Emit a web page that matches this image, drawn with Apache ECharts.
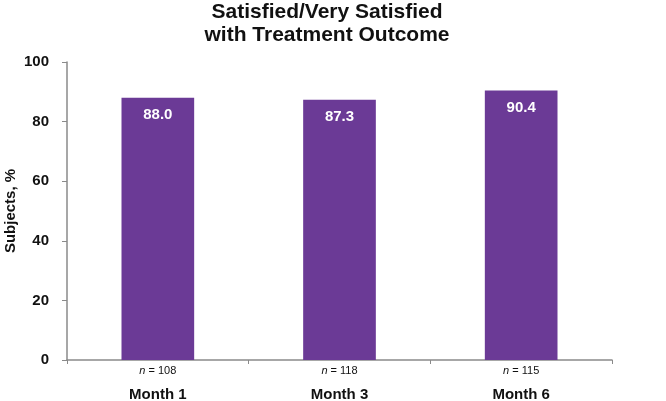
<!DOCTYPE html>
<html>
<head>
<meta charset="utf-8">
<script src="https://cdn.jsdelivr.net/npm/echarts@6/dist/echarts.min.js"></script>
<style>
  html, body { margin: 0; padding: 0; background: #fff; }
  #chart { width: 666px; height: 401px; }
</style>
</head>
<body>
<div id="chart"></div>
<script>
// data
var months = ['Month 1', 'Month 3', 'Month 6'];
var satisfied = [88.0, 87.3, 90.4];
var sampleSizes = [108, 118, 115];

var chart = echarts.init(document.getElementById('chart'));
var font = '"Liberation Sans", Arial, sans-serif';

chart.setOption({
  animation: false,
  title: {
    text: 'Satisfied/Very Satisfied\nwith Treatment Outcome',
    left: 327,
    top: 0,
    textAlign: 'center',
    padding: [1, 0, 0, 0],
    textStyle: {
      fontFamily: font,
      fontSize: 21,
      fontWeight: 'bold',
      color: '#111',
      lineHeight: 23
    }
  },
  grid: { left: 67, right: 54, top: 62, bottom: 41, outerBoundsMode: 'none' },
  xAxis: {
    type: 'category',
    data: months,
    axisLine: { lineStyle: { color: '#8a8a8a', width: 1.5 } },
    axisTick: { show: true, length: 4, lineStyle: { color: '#8a8a8a' } },
    axisLabel: {
      margin: 2,
      interval: 0,
      formatter: function (v, i) {
        return '{n|n}{v| = ' + sampleSizes[i] + '}\n{m|' + v + '}';
      },
      rich: {
        n: { fontFamily: font, fontStyle: 'italic', fontSize: 11, color: '#111', lineHeight: 18 },
        v: { fontFamily: font, fontSize: 11, color: '#111', lineHeight: 18 },
        m: { fontFamily: font, fontSize: 15, fontWeight: 'bold', color: '#111', lineHeight: 30 }
      }
    }
  },
  yAxis: {
    type: 'value',
    min: 0,
    max: 100,
    interval: 20,
    name: 'Subjects, %',
    nameLocation: 'middle',
    nameGap: 49,
    nameMoveOverlap: false,
    nameTextStyle: { fontFamily: font, fontSize: 15, fontWeight: 'bold', color: '#111' },
    splitLine: { show: false },
    axisLine: { show: true, lineStyle: { color: '#8a8a8a', width: 1.5 } },
    axisTick: { show: true, length: 5, lineStyle: { color: '#8a8a8a' } },
    axisLabel: { fontFamily: font, fontSize: 15, fontWeight: 'bold', color: '#111', margin: 18 }
  },
  series: [{
    type: 'bar',
    data: satisfied,
    barWidth: '40%',
    itemStyle: { color: '#6b3a96' },
    label: {
      show: true,
      position: 'insideTop',
      distance: 10,
      formatter: function (p) { return p.value.toFixed(1); },
      fontFamily: font,
      fontSize: 15,
      fontWeight: 'bold',
      color: '#fff'
    }
  }]
});
</script>
</body>
</html>
